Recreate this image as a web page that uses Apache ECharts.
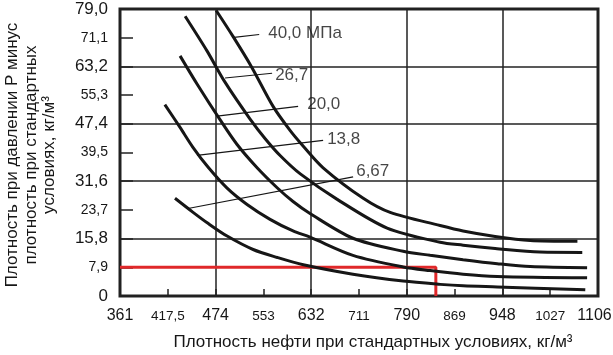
<!DOCTYPE html>
<html><head><meta charset="utf-8">
<script src="https://cdn.jsdelivr.net/npm/echarts@6/dist/echarts.min.js"></script>
<style>html,body{margin:0;padding:0;background:#fff}#c{width:613px;height:355px}</style>
</head><body><div id="c"></div>
<script>
// ---- data ----
const xTickValues = [361, 417.5, 474, 553, 632, 711, 790, 869, 948, 1027, 1106];
const xTickLabels = ['361', '417,5', '474', '553', '632', '711', '790', '869', '948', '1027', '1106'];
const yTickLabels = ['0', '7,9', '15,8', '23,7', '31,6', '39,5', '47,4', '55,3', '63,2', '71,1', '79,0'];
const curveNames = ['40,0 МПа', '26,7', '20,0', '13,8', '6,67'];

const curve40 = [[475,78.6],[503,71.4],[533,63.2],[569,52.2],[597,45.6],[618.6,41.3],[651.7,35.3],[718,26.9],[762.5,23.0],[845,19.4],[883,17.9],[936,16.4],[994,15.3],[1072,15.05]];
const curve26 = [[438,77.0],[464,67.4],[489,59.0],[531,48.7],[556,43.3],[581,38.6],[614,33.6],[675,26.6],[757.5,18.7],[845,14.8],[883,14.0],[936,13.1],[1010,12.1],[1080,12.0]];
const curve20 = [[432,66.1],[453,58.0],[481,48.6],[509.5,41.7],[542.6,35.3],[575.7,29.8],[602,26.0],[630,22.7],[701,15.9],[784,12.3],[828.6,11.2],[883,10.0],[939.5,8.9],[994,8.1],[1088,7.8]];
const curve13 = [[414,52.7],[432,46.4],[447,41.0],[465,35.5],[493,29.7],[526,25.2],[564,21.1],[602,17.9],[630,16.2],[701,11.2],[784,8.0],[828.6,7.0],[883,6.0],[939.5,5.4],[1088,5.0]];
const curve6 = [[426,26.9],[447,23.1],[465,20.0],[493,16.5],[536,12.8],[576,10.6],[619,8.6],[701,6.0],[784,4.1],[845,3.2],[883,2.8],[939.5,2.5],[1085,1.7]];

const leader40 = [[504.5,71.2],[546,72.0]];
const leader26 = [[489.6,60.0],[567.4,61.3]];
const leader20 = [[476.4,49.5],[610.4,52.2]];
const leader13 = [[452,38.7],[651.7,42.85]];
const leader6 = [[441.4,24.1],[701.3,32.8]];

const redGuide = [[361,7.9],[838,7.9],[838,0]];

// ---- helpers ----
function xPos(d) {
  for (let i = 0; i < xTickValues.length - 1; i++) {
    if (d <= xTickValues[i + 1]) return i + (d - xTickValues[i]) / (xTickValues[i + 1] - xTickValues[i]);
  }
  return xTickValues.length - 1;
}
const toAxis = pts => pts.map(p => [xPos(p[0]), p[1]]);

const FONT = "'Liberation Sans', Arial, sans-serif";
const INK = '#161616';

const curves = [curve40, curve26, curve20, curve13, curve6];
const leaders = [leader40, leader26, leader20, leader13, leader6];
const labelLayout = [
  {distance: 9, offset: [0, -1]},
  {distance: 3, offset: [0, 2.5]},
  {distance: 9, offset: [0, -2]},
  {distance: 4, offset: [0, -1.5]},
  {distance: 3, offset: [0, -5.5]}
];

const series = [];
curves.forEach((c, i) => {
  series.push({
    type: 'line', xAxisIndex: 0, yAxisIndex: 0, data: toAxis(c),
    smooth: 0.3, showSymbol: false, symbol: 'none',
    lineStyle: {color: INK, width: 3}, z: 3, silent: true
  });
});
leaders.forEach((l, i) => {
  series.push({
    type: 'line', xAxisIndex: 0, yAxisIndex: 0, data: toAxis(l),
    showSymbol: false, symbol: 'none',
    lineStyle: {color: INK, width: 1.1}, z: 3, silent: true
  });
  series.push({
    type: 'scatter', xAxisIndex: 0, yAxisIndex: 0, data: [toAxis(l)[1]],
    symbolSize: 0.1, itemStyle: {color: 'rgba(0,0,0,0)'}, silent: true, z: 4,
    label: {show: true, position: 'right', distance: labelLayout[i].distance, offset: labelLayout[i].offset,
      formatter: curveNames[i], color: INK, fontSize: 17, fontFamily: FONT}
  });
});
series.push({
  type: 'line', xAxisIndex: 0, yAxisIndex: 0, data: toAxis(redGuide),
  showSymbol: false, symbol: 'none',
  lineStyle: {color: '#e0282a', width: 3}, z: 2, silent: true
});

const chart = echarts.init(document.getElementById('c'), null, {renderer: 'canvas'});
chart.setOption({
  animation: false,
  backgroundColor: '#fff',
  grid: {left: 120, right: 15, top: 9, bottom: 59, show: true, borderColor: '#222', borderWidth: 3,
    backgroundColor: 'transparent', containLabel: false, outerBoundsMode: 'none'},
  xAxis: [
    {type: 'value', min: 0, max: 10, interval: 1, position: 'bottom',
      axisLine: {show: false}, splitLine: {show: false},
      axisTick: {show: true, inside: true, length: 7, lineStyle: {color: '#222', width: 1.5}},
      axisLabel: {show: true, margin: 9, showMinLabel: true, showMaxLabel: true,
        formatter: v => { const k = Math.round(v); const s = k === 10 ? 'c' : (k % 2 === 0 ? 'a' : 'b'); return '{' + s + '|' + xTickLabels[k] + '}'; },
        rich: {a: {fontSize: 16, fontFamily: FONT, color: INK, lineHeight: 22},
               b: {fontSize: 13.5, fontFamily: FONT, color: INK, lineHeight: 22},
               c: {fontSize: 16, fontFamily: FONT, color: INK, lineHeight: 22, padding: [0, 7, 0, 0]}}}},
    {type: 'value', min: 0, max: 10, interval: 2, position: 'bottom',
      axisLine: {show: false}, axisTick: {show: false}, axisLabel: {show: false},
      splitLine: {show: true, lineStyle: {color: '#222', width: 1.5}}}
  ],
  yAxis: [
    {type: 'value', min: 0, max: 79, interval: 7.9, position: 'left',
      axisLine: {show: false}, splitLine: {show: false},
      axisTick: {show: true, inside: true, length: 13, lineStyle: {color: '#222', width: 1.5}},
      axisLabel: {show: true, margin: 12, showMinLabel: true, showMaxLabel: true,
        formatter: v => { const k = Math.round(v / 7.9); return (k % 2 === 0 ? '{a|' : '{b|') + yTickLabels[k] + '}'; },
        rich: {a: {fontSize: 17, fontFamily: FONT, color: INK},
               b: {fontSize: 14, fontFamily: FONT, color: INK}}}},
    {type: 'value', min: 0, max: 79, interval: 15.8, position: 'left',
      axisLine: {show: false}, axisTick: {show: false}, axisLabel: {show: false},
      splitLine: {show: true, lineStyle: {color: '#222', width: 1.5}}}
  ],
  graphic: [
    {type: 'text', x: 31, y: 155, rotation: Math.PI / 2, silent: true,
      style: {text: 'Плотность при давлении Р минус\nплотность при стандартных\nусловиях, кг/м³',
        fontSize: 17, fontFamily: FONT, fill: INK, align: 'center', verticalAlign: 'middle', lineHeight: 18.5}},
    {type: 'text', x: 373, y: 342, silent: true,
      style: {text: 'Плотность нефти при стандартных условиях, кг/м³',
        fontSize: 17, fontFamily: FONT, fill: INK, align: 'center', verticalAlign: 'middle'}}
  ],
  series: series
});
</script></body></html>
